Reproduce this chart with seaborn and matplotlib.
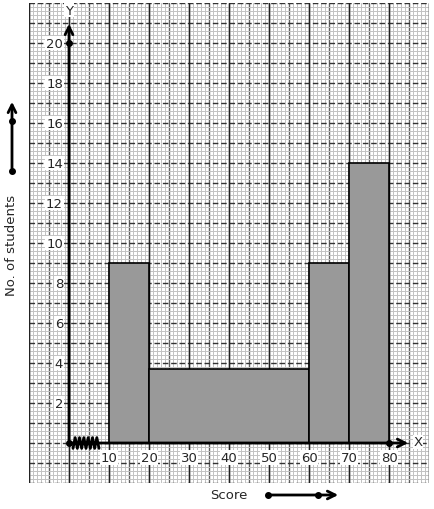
import numpy as np
import pandas as pd
import matplotlib
matplotlib.use("Agg")
import matplotlib.pyplot as plt
import seaborn as sns

# histogram data (unequal class widths)
bin_edges = [10, 20, 60, 70, 80]
heights = [9, 3.7, 9, 14]
x_labels = [10, 20, 30, 40, 50, 60, 70, 80]
y_labels = [2, 4, 6, 8, 10, 12, 14, 16, 18, 20]

mids = [(a + b) / 2 for a, b in zip(bin_edges[:-1], bin_edges[1:])]
df = pd.DataFrame({"score": mids, "students": heights})

sns.set_style("white")
plt.rcParams["font.family"] = ["DejaVu Sans"]

W, H = 434, 510
fig = plt.figure(figsize=(W / 100, H / 100), dpi=100)
ax = fig.add_axes([29 / W, 26 / H, 400 / W, 480 / H])
ax.set_xlim(-10, 90)
ax.set_ylim(-2, 22)

# graph-paper grid
ax.set_xticks(np.arange(-10, 91, 5))
ax.set_xticks(np.arange(-10, 91, 1), minor=True)
ax.set_yticks(np.arange(-2, 23, 1))
ax.set_yticks(np.arange(-2, 22.01, 0.2), minor=True)
ax.xaxis.grid(True, which="minor", color="#c2c2c2", lw=0.7)
ax.yaxis.grid(True, which="minor", color="#c2c2c2", lw=0.7)
ax.xaxis.grid(True, which="major", color="#606060", lw=1.0, ls="-")
ax.yaxis.grid(True, which="major", color="#333333", lw=1.0, ls=(0, (4, 2)))
for v in range(-10, 91, 10):
    ax.axvline(v, color="#222222", lw=1.0, zorder=0.6)
ax.set_axisbelow(True)
ax.tick_params(which="both", length=0, labelbottom=False, labelleft=False)
for s in ax.spines.values():
    s.set_visible(False)

sns.histplot(data=df, x="score", weights="students", bins=bin_edges, ax=ax,
             color="#999999", edgecolor="black", linewidth=1.2, alpha=1, zorder=3)
ax.set_xlabel("")
ax.set_ylabel("")

# axes with arrows
ax.annotate("", xy=(85.5, 0), xytext=(0, 0), zorder=5,
            arrowprops=dict(arrowstyle="->", lw=2, color="black", mutation_scale=14))
ax.annotate("", xy=(0, 21.1), xytext=(0, 0), zorder=5,
            arrowprops=dict(arrowstyle="->", lw=2, color="black", mutation_scale=14))
ax.plot([0, 0, 80], [0, 20, 0], "o", color="black", ms=4, zorder=6)

# axis break zigzag
zx = np.linspace(1, 7.5, 13)
zy = np.where(np.arange(13) % 2 == 0, -0.27, 0.27)
ax.plot(zx, zy, color="black", lw=2, zorder=6)

box = dict(facecolor="white", edgecolor="none", pad=0.5)
for v in x_labels:
    ax.text(v, -0.72, str(v), ha="center", va="center", fontsize=9.5, bbox=box, zorder=7)
for v in y_labels:
    ax.text(-1.5, v, str(v), ha="right", va="center", fontsize=9.5, bbox=box, zorder=7)
ax.text(0, 21.65, "Y", ha="center", va="center", fontsize=9.5, bbox=box, zorder=7)
ax.text(87.3, 0.05, "X", ha="center", va="center", fontsize=9.5, bbox=box, zorder=7)

# outer labels with direction arrows
fig.text(12 / W, 1 - 245 / H, "No. of students", rotation=90, ha="center", va="center", fontsize=9.5)
fig.text(229 / W, 1 - 496 / H, "Score", ha="center", va="center", fontsize=9.5)
fig.add_artist(matplotlib.patches.FancyArrowPatch(
    (12 / W, 1 - 172 / H), (12 / W, 1 - 100 / H), transform=fig.transFigure,
    arrowstyle="->", lw=2, color="black", mutation_scale=14))
fig.add_artist(matplotlib.patches.FancyArrowPatch(
    (268 / W, 1 - 496 / H), (341 / W, 1 - 496 / H), transform=fig.transFigure,
    arrowstyle="->", lw=2, color="black", mutation_scale=14))
fig.add_artist(matplotlib.lines.Line2D([12 / W, 12 / W], [1 - 172 / H, 1 - 122 / H],
                                       transform=fig.transFigure, ls="none", marker="o",
                                       ms=4, color="black"))
fig.add_artist(matplotlib.lines.Line2D([268 / W, 318 / W], [1 - 496 / H, 1 - 496 / H],
                                       transform=fig.transFigure, ls="none", marker="o",
                                       ms=4, color="black"))

fig.savefig("out.png", dpi=100)
